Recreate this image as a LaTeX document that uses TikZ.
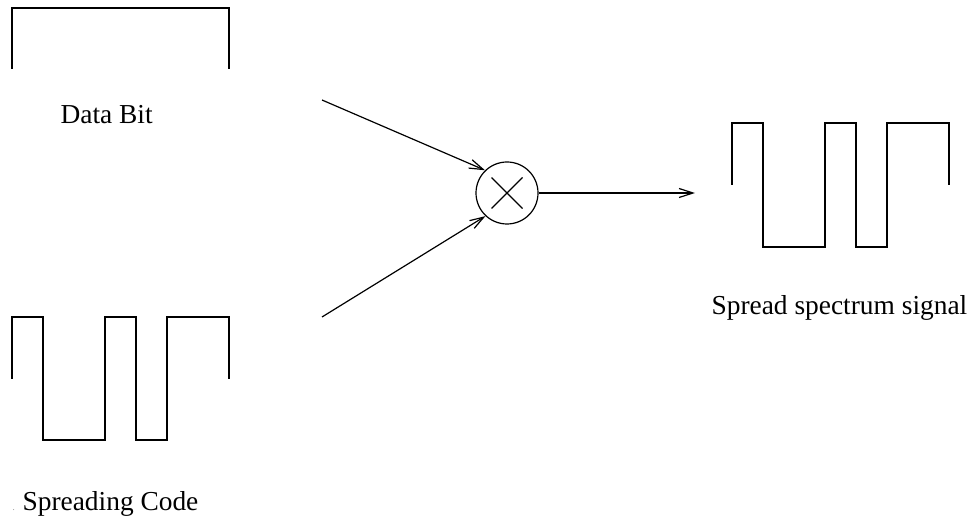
\documentclass[tikz,border=0pt]{standalone}
\usepackage{fontspec}
\setmainfont{Liberation Serif}
\usetikzlibrary{arrows.meta}
\begin{document}
\begin{tikzpicture}[x=1pt,y=-1pt,line width=1.2pt,
  wave/.style={line join=miter},
  lbl/.style={anchor=base west,inner sep=0pt,font=\fontsize{27.4}{30}\selectfont},
  arr/.style={-{Straight Barb[length=14pt,width=9pt,line width=1.2pt]}},
  mixer/.style={circle,draw,minimum size=62pt,inner sep=0pt,
    path picture={\draw ([shift={(-15.5pt,-15.5pt)}]path picture bounding box.center) -- ([shift={(15.5pt,15.5pt)}]path picture bounding box.center);
                  \draw ([shift={(-15.5pt,15.5pt)}]path picture bounding box.center) -- ([shift={(15.5pt,-15.5pt)}]path picture bounding box.center);}}]
\useasboundingbox (0,0) rectangle (972,518);
% data bit
\draw[wave] (12,69) -- (12,8) -- (229,8) -- (229,69);
\node[lbl] (databit) at (60,124) {Data Bit};
% spreading code
\draw[wave] (12,379) -- (12,317) -- (43,317) -- (43,440) -- (105,440) -- (105,317) -- (136,317) -- (136,440) -- (167,440) -- (167,317) -- (229,317) -- (229,379);
\node[lbl,font=\fontsize{6}{6}\selectfont] (dot) at (12.5,510) {.};
\node[lbl] (spcode) at (22,510) {Spreading Code};
% spread signal
\draw[wave] (732,185) -- (732,123) -- (763,123) -- (763,247) -- (825,247) -- (825,123) -- (856,123) -- (856,247) -- (887,247) -- (887,123) -- (949,123) -- (949,185);
\node[lbl] (sslabel) at (711,315) {Spread spectrum signal};
% mixer
\node[mixer] (mult) at (507,193) {};
\coordinate (in1) at (322,100);
\coordinate (in2) at (322,317);
\coordinate (out) at (695,193);
\draw[arr] (in1) -- (mult.134);
\draw[arr] (in2) -- (mult.227);
\draw[arr] (mult.east) -- (out);
\end{tikzpicture}
\end{document}
